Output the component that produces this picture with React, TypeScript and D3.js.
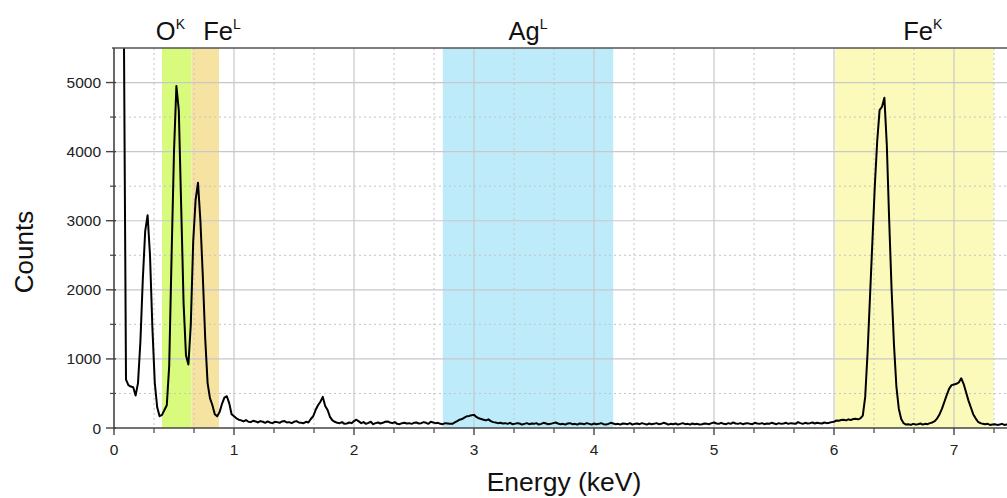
import React from "react";
import * as d3 from "d3";

// Spectrum calibration: first channel energy and channel width (keV)
const E0 = 0.06;
const STEP = 0.02;

// Counts per channel (rows of 10 channels = 0.2 keV)
const counts: number[] = [
  15000, 6500, 700, 620, 600, 590, 470, 650, 1250, 2150,
  2850, 3080, 2500, 1450, 650, 300, 170, 190, 260, 330,
  900, 2500, 4000, 4950, 4600, 3200, 1800, 1050, 920, 1500,
  2700, 3300, 3550, 3000, 2200, 1300, 650, 430, 330, 200,
  170, 230, 350, 440, 460, 360, 200, 170, 140, 120,
  110, 95, 115, 90, 85, 105, 95, 80, 100, 90,
  75, 95, 80, 70, 90, 85, 75, 95, 100, 80,
  85, 70, 90, 100, 80, 75, 70, 90, 80, 130,
  170, 260, 330, 380, 450, 320, 260, 160, 110, 90,
  75, 70, 85, 60, 65, 80, 70, 100, 120, 95,
  70, 85, 60, 75, 90, 55, 70, 80, 65, 75,
  90, 95, 80, 70, 85, 60, 55, 70, 75, 65,
  70, 60, 75, 80, 65, 70, 85, 75, 60, 90,
  80, 70, 75, 60, 55, 70, 65, 60, 60, 80,
  100, 120, 130, 150, 170, 175, 185, 190, 160, 140,
  130, 120, 110, 125, 100, 85, 80, 70, 75, 65,
  70, 60, 75, 55, 60, 70, 65, 50, 60, 70,
  55, 65, 60, 70, 50, 60, 75, 65, 55, 60,
  70, 80, 65, 55, 60, 50, 65, 70, 55, 60,
  50, 65, 60, 55, 70, 60, 50, 65, 55, 60,
  70, 55, 50, 60, 75, 65, 55, 60, 50, 65,
  60, 55, 70, 50, 60, 65, 55, 70, 60, 50,
  65, 55, 60, 70, 55, 60, 75, 65, 50, 60,
  55, 65, 50, 60, 70, 55, 60, 50, 65, 55,
  60, 50, 55, 65, 60, 55, 70, 80, 65, 60,
  75, 60, 55, 70, 60, 80, 65, 60, 70, 55,
  65, 70, 60, 55, 75, 65, 60, 70, 55, 65,
  60, 75, 65, 55, 70, 60, 65, 75, 60, 70,
  65, 60, 85, 70, 60, 75, 65, 70, 80, 65,
  75, 70, 65, 80, 70, 75, 85, 90, 110, 105,
  115, 120, 110, 125, 115, 130, 135, 125, 140, 180,
  450, 1100, 1900, 2700, 3500, 4150, 4600, 4650, 4780, 4100,
  3000, 2000, 1200, 600, 280, 130, 70, 50, 55, 45,
  60, 50, 55, 65, 50, 60, 55, 70, 80, 100,
  140, 200, 280, 380, 480, 570, 620, 630, 640, 660,
  720, 640, 520, 400, 300, 200, 140, 90, 70, 60,
  55, 60, 45, 50, 55, 45, 50, 60, 45, 50,
  50,
];

// Element bands
const bandNames = ["O", "Fe", "Ag", "Fe"];
const bandShells = ["K", "L", "L", "K"];
const bandStart = [0.4, 0.645, 2.74, 6.01];
const bandEnd = [0.645, 0.875, 4.16, 7.33];
const bandColors = ["#d8fb7e", "#f6e3a2", "#bdebfa", "#fbfabb"];
const bandLabelAt = [0.47, 0.9, 3.45, 6.74];

// Axis ticks
const xTicks = [0, 1, 2, 3, 4, 5, 6, 7];
const yTicks = [0, 1000, 2000, 3000, 4000, 5000];

const W = 1007;
const H = 498;
const L = 114;
const R = 1008;
const T = 48;
const B = 428;

export default function App() {
  const x = d3.scaleLinear().domain([0, 7.45]).range([L, R]);
  const y = d3.scaleLinear().domain([0, 5500]).range([B, T]);

  const xMinor = d3.range(0, 7.45, 1 / 3).filter((v) => Math.abs(v - Math.round(v)) > 1e-6);
  const yMinor = d3.range(500, 5500, 1000);

  const line = d3
    .line<number>()
    .x((_, i) => x(E0 + i * STEP))
    .y((d) => y(d));

  const font = "'Liberation Sans', Arial, sans-serif";

  return (
    <svg
      width={W}
      height={H}
      style={{ position: "absolute", left: 0, top: 0, background: "#fff" }}
      fontFamily={font}
    >
      <defs>
        <clipPath id="plot">
          <rect x={L} y={T} width={R - L} height={B - T} />
        </clipPath>
      </defs>
      {bandStart.map((s, i) => (
        <rect
          key={"b" + i}
          x={x(s)}
          y={T}
          width={x(bandEnd[i]) - x(s)}
          height={B - T}
          fill={bandColors[i]}
        />
      ))}
      {/* minor grid */}
      {xMinor.map((v, i) => (
        <line key={"xm" + i} x1={x(v)} x2={x(v)} y1={T} y2={B} stroke="#c4c4c4" strokeWidth={1} strokeDasharray="2,3" />
      ))}
      {yMinor.map((v, i) => (
        <line key={"ym" + i} x1={L} x2={R} y1={y(v)} y2={y(v)} stroke="#c4c4c4" strokeWidth={1} strokeDasharray="2,3" />
      ))}
      {/* major grid */}
      {xTicks.slice(1).map((v) => (
        <line key={"xg" + v} x1={x(v)} x2={x(v)} y1={T} y2={B} stroke="#c8c8c8" strokeWidth={1.2} />
      ))}
      {yTicks.slice(1).map((v) => (
        <line key={"yg" + v} x1={L} x2={R} y1={y(v)} y2={y(v)} stroke="#c8c8c8" strokeWidth={1.2} />
      ))}
      {/* spectrum */}
      <path d={line(counts) || ""} fill="none" stroke="#000" strokeWidth={2} strokeLinejoin="round" clipPath="url(#plot)" />
      {/* axes */}
      <line x1={L - 2} x2={R} y1={T} y2={T} stroke="#555" strokeWidth={1.6} />
      <line x1={L} x2={L} y1={T} y2={B + 1} stroke="#444" strokeWidth={1.6} />
      <line x1={L - 1} x2={R} y1={B} y2={B} stroke="#444" strokeWidth={1.6} />
      {xTicks.map((v) => (
        <g key={"xt" + v}>
          <line x1={x(v)} x2={x(v)} y1={B} y2={B + 7} stroke="#444" strokeWidth={1.4} />
          <text x={x(v)} y={454.5} fontSize={15.5} textAnchor="middle" fill="#222">
            {v}
          </text>
        </g>
      ))}
      {xMinor.map((v, i) => (
        <line key={"xmt" + i} x1={x(v)} x2={x(v)} y1={B} y2={B + 5} stroke="#444" strokeWidth={1.2} />
      ))}
      {yTicks.map((v) => (
        <g key={"yt" + v}>
          <line x1={L - 8} x2={L + 2} y1={y(v)} y2={y(v)} stroke="#444" strokeWidth={1.4} />
          <text x={101} y={y(v) + 5.5} fontSize={15.5} textAnchor="end" fill="#222">
            {v}
          </text>
        </g>
      ))}
      {yMinor.map((v, i) => (
        <line key={"ymt" + i} x1={L - 4} x2={L + 2} y1={y(v)} y2={y(v)} stroke="#444" strokeWidth={1.2} />
      ))}
      {/* axis titles */}
      <text x={564} y={491} fontSize={26.5} textAnchor="middle" fill="#111">
        Energy (keV)
      </text>
      <text transform="translate(33,252) rotate(-90)" fontSize={26} textAnchor="middle" fill="#111">
        Counts
      </text>
      {/* band labels */}
      {bandNames.map((n, i) => (
        <text key={"bl" + i} x={x(bandLabelAt[i])} y={40} fontSize={25.5} textAnchor="middle" fill="#111">
          {n}
          <tspan fontSize={14} dy={-11}>
            {bandShells[i]}
          </tspan>
        </text>
      ))}
    </svg>
  );
}
